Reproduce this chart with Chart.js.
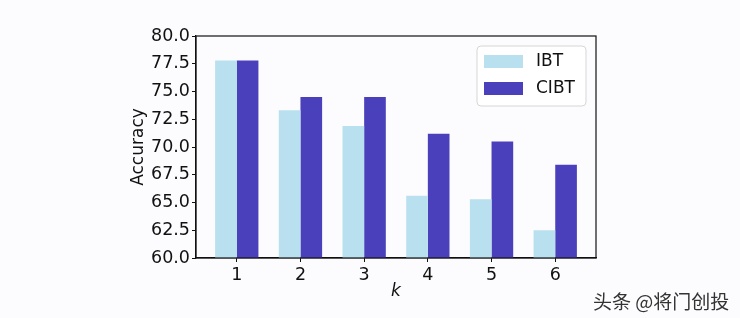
<!DOCTYPE html>
<html>
<head>
<meta charset="utf-8">
<script src="https://cdn.jsdelivr.net/npm/chart.js@4.4.1/dist/chart.umd.min.js"></script>
<style>
  html, body { margin: 0; padding: 0; background: #fcfcfe; }
  #wrap { position: relative; width: 740px; height: 318px; }
  #mark {
    position: absolute; left: 593px; top: 287px;
    font-family: "Noto Sans CJK SC", sans-serif; font-size: 19px; color: #333;
    white-space: nowrap;
  }
</style>
</head>
<body>
<div id="wrap">
  <canvas id="chart" width="740" height="318"></canvas>
  <div id="mark">头条 @将门创投</div>
</div>
<script>
const kValues = [1, 2, 3, 4, 5, 6];
const ibtValues = [77.8, 73.3, 71.9, 65.6, 65.3, 62.5];
const cibtValues = [77.8, 74.5, 74.5, 71.2, 70.5, 68.4];
const yTicks = [60, 62.5, 65, 67.5, 70, 72.5, 75, 77.5, 80];

const FONT = "'DejaVu Sans', sans-serif";

// frame on all four sides, plus the legend box inside the plot
const framePlugin = {
  id: "frame",
  afterDraw(chart) {
    const { ctx, chartArea } = chart;
    ctx.save();
    ctx.strokeStyle = "#111";
    ctx.lineWidth = 1.2;
    ctx.strokeRect(chartArea.left, chartArea.top, chartArea.right - chartArea.left, chartArea.bottom - chartArea.top);

    // legend
    const w = 109, h = 60;
    const x = chartArea.right - 10 - w;
    const y = chartArea.top + 10;
    ctx.beginPath();
    ctx.roundRect(x, y, w, h, 4);
    ctx.fillStyle = "rgba(255,255,255,0.85)";
    ctx.fill();
    ctx.strokeStyle = "#d6d6d6";
    ctx.lineWidth = 1;
    ctx.stroke();

    ctx.font = "17px " + FONT;
    ctx.textBaseline = "middle";
    chart.data.datasets.forEach((ds, i) => {
      const rowY = y + 9 + i * 27;
      ctx.fillStyle = ds.backgroundColor;
      ctx.fillRect(x + 7, rowY, 39, 13);
      ctx.fillStyle = "#111";
      ctx.fillText(ds.label, x + 59, rowY + 7);
    });
    ctx.restore();
  },
};

new Chart(document.getElementById("chart").getContext("2d"), {
  type: "bar",
  data: {
    labels: kValues,
    datasets: [
      {
        label: "IBT",
        data: ibtValues,
        backgroundColor: "#b8e0ef",
        categoryPercentage: 0.68,
        barPercentage: 1.0,
      },
      {
        label: "CIBT",
        data: cibtValues,
        backgroundColor: "#4a40bb",
        categoryPercentage: 0.68,
        barPercentage: 1.0,
      },
    ],
  },
  options: {
    responsive: false,
    animation: false,
    layout: {
      padding: { left: 128, right: 144, top: 36, bottom: 16 },
    },
    scales: {
      x: {
        type: "linear",
        min: 0.36,
        max: 6.64,
        offset: false,
        afterBuildTicks: (axis) => {
          axis.ticks = kValues.map((v) => ({ value: v }));
        },
        afterFit: (scale) => {
          scale.height = 44;
        },
        border: { display: true, color: "#111", width: 1.2 },
        grid: { offset: false, drawOnChartArea: false, drawTicks: true, tickLength: 4, tickColor: "#111" },
        ticks: {
          color: "#111",
          padding: 3,
          font: { family: FONT, size: 17.5 },
          callback: (v) => String(v),
        },
        title: {
          display: true,
          text: "k",
          color: "#111",
          padding: { top: 0, bottom: 0 },
          font: { family: FONT, size: 17, style: "italic" },
        },
      },
      y: {
        min: 60,
        max: 80,
        afterBuildTicks: (axis) => {
          axis.ticks = yTicks.map((v) => ({ value: v }));
        },
        afterFit: (scale) => {
          scale.width = 68;
        },
        border: { display: true, color: "#111", width: 1.2 },
        grid: { drawOnChartArea: false, drawTicks: true, tickLength: 4, tickColor: "#111" },
        ticks: {
          color: "#111",
          padding: 2,
          font: { family: FONT, size: 17.5 },
          callback: (v) => v.toFixed(1),
        },
        title: {
          display: true,
          text: "Accuracy",
          color: "#111",
          padding: { top: 0, bottom: 2 },
          font: { family: FONT, size: 17 },
        },
      },
    },
    plugins: {
      legend: { display: false },
      tooltip: { enabled: false },
    },
  },
  plugins: [framePlugin],
});
</script>
</body>
</html>
